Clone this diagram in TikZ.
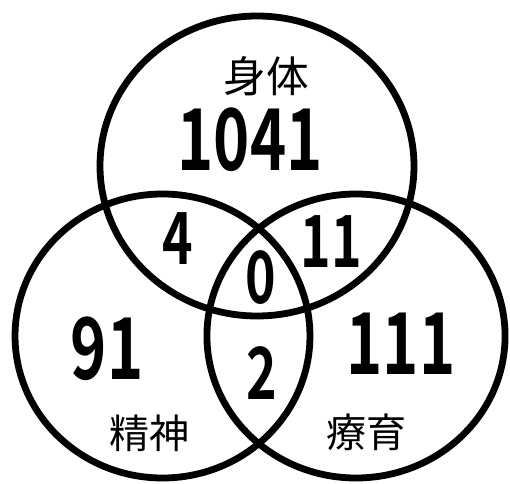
\documentclass[tikz,border=0pt]{standalone}
\usepackage{fontspec}
\newfontfamily\jpfont{Noto Sans CJK JP}
\newfontfamily\numfont[FakeStretch=0.72, UprightFont=* Bold]{Noto Sans CJK JP}

\begin{document}
\begin{tikzpicture}[
  x=0.75pt, y=-0.75pt,
  ring/.style={draw, line width=5.1pt},
  big/.style={font=\numfont\fontsize{64}{64}\selectfont, inner sep=0pt},
  small/.style={font=\numfont\fontsize{54}{54}\selectfont, inner sep=0pt},
  lab/.style={font=\jpfont\fontsize{30}{30}\selectfont, inner sep=0pt}
]
\useasboundingbox (0,0) rectangle (510,484);

% three sets
\draw[ring] (257,166) ellipse [x radius=117.75pt, y radius=112.5pt];
\draw[ring] (162.5,336) ellipse [x radius=110.6pt, y radius=106.5pt];
\draw[ring] (356,336) ellipse [x radius=111.8pt, y radius=106.5pt];

% names
\node[lab, font=\jpfont\fontsize{32}{32}\selectfont] (body) at (266,76) {身体};
\node[lab] (mind) at (149,433) {精神};
\node[lab] (care) at (366,432) {療育};

% counts
\node[big]   (nbody) at (250,140) {1041};
\node[big]   (nmind) at (107,349) {91};
\node[big]   (ncare) at (401,344) {111};
\node[small] (nbm)   at (178,239) {4};
\node[small] (nbc)   at (331,242) {11};
\node[small] (nall)  at (261,278) {0};
\node[small] (nmc)   at (262,373) {2};
\end{tikzpicture}
\end{document}
